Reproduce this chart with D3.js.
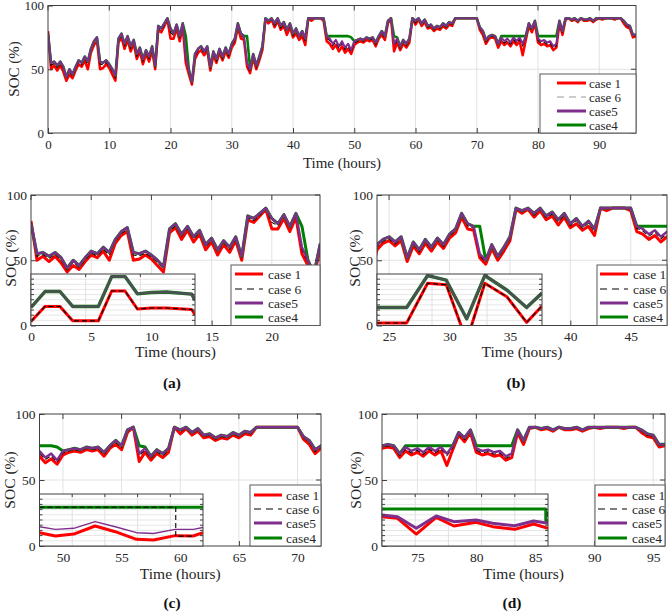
<!DOCTYPE html>
<html><head><meta charset="utf-8">
<script src="https://cdn.jsdelivr.net/npm/d3@7"></script>
<style>body{margin:0;background:#fff}svg{display:block}svg text{font-family:'Liberation Serif','Times New Roman',Times,serif;font-weight:normal}svg text.tag{font-weight:bold}</style>
</head><body><svg id="c" width="669" height="612"></svg>
<script>
// ---------------- DATA ----------------
const timeStep = 0.5; // hours between samples, from t = 0 h to 96 h
const seriesNames = ["case 1", "case 6", "case5", "case4"];

const case5 = [
 78,55,56,53,56,52,44,50,46,52, 57,55,60,56,66,72,75,56,55,57,
 54,50,45,74,78,70,76,68,73,62, 67,58,65,60,68,53,84,82,86,90,
 82,78,85,76,86,60,50,40,62,66, 68,64,68,52,64,58,66,60,67,62,
 70,74,86,78,76,55,50,62,53,60, 68,90,88,90,86,90,84,87,81,86,
 78,82,76,80,74,90,90,90,90,90, 90,76,74,70,73,68,72,67,70,65,
 72,73,74,73,75,74,75,71,76,80, 76,88,90,70,74,68,73,70,74,90,
 88,90,86,89,84,85,82,84,83,86, 84,87,86,90,90,90,90,90,90,90,
 90,83,80,73,76,77,76,70,75,72, 74,71,75,72,75,70,76,86,82,88,
 74,72,73,71,72,68,70,88,80,90, 90,89,90,88,90,89,89,90,88,90,
 90,90,90,90,90,90,90,90,88,85, 84,77,77];

const case1 = [
 80,50,53,49,53,48,41,46,43,49, 54,52,57,50,63,69,72,50,51,54,
 51,46,41,71,75,66,73,64,70,58, 64,54,62,56,65,50,81,79,84,89,
 74,74,82,72,83,55,46,38,58,63, 65,61,65,49,61,55,63,57,64,59,
 67,71,83,74,73,52,47,59,50,57, 65,89,86,89,83,88,81,84,77,83,
 75,78,73,76,69,90,88,90,90,90, 88,72,70,66,69,64,68,63,66,62,
 69,71,72,71,73,72,73,68,74,77, 73,86,90,64,71,65,70,67,71,90,
 85,89,84,87,82,83,80,82,81,84, 82,85,84,90,90,90,90,90,90,90,
 90,81,77,70,74,75,74,67,72,69, 71,68,72,69,72,61,73,84,79,86,
 71,69,70,68,69,65,67,86,77,89, 90,88,89,87,90,88,88,89,87,89,
 90,89,90,90,90,89,90,90,86,83, 82,75,76];

const case6 = [
 79,53,54.5,51.5,54.5,50.5,42.5,48.5,44.5,50.5, 55.5,53.5,58.5,54,64.5,70.5,73.5,54,53.5,55.5,
 52.5,48.5,43.5,72.5,76.5,68.5,74.5,66.5,71.5,60.5, 65.5,56.5,63.5,58.5,66.5,51.5,82.5,80.5,84.5,89.5,
 79,76.5,83.5,74.5,84.5,58,48.5,39,60.5,64.5, 66.5,62.5,66.5,50.5,62.5,56.5,64.5,58.5,65.5,60.5,
 68.5,72.5,84.5,76.5,74.5,53.5,48.5,60.5,51.5,58.5, 66.5,89.5,87,89.5,84.5,89,82.5,85.5,79.5,84.5,
 76.5,80.5,74.5,78.5,72,90,89.5,90,90,90, 89.5,74.5,72.5,68.5,71.5,66.5,70.5,65.5,68.5,63.5,
 70.5,72,73,72,74,73,74,69.5,75,78.5, 74.5,87,90,68.5,72.5,66.5,71.5,68.5,72.5,90,
 86.5,89.5,85,88,83,84,81,83,82,85, 83,86,85,90,90,90,90,90,90,90,
 90,82,78.5,71.5,75,76,75,68.5,73.5,70.5, 72.5,69.5,73.5,70.5,73.5,68.5,74.5,85,80.5,87,
 72.5,70.5,71.5,69.5,70.5,66.5,68.5,87,78.5,89.5, 90,88.5,89.5,87.5,90,88.5,88.5,89.5,87.5,89.5,
 90,90,90,90,90,90,90,90,87,84, 83,76,76.5];

const case4 = [
 78,55,56,53,56,52,44,50,46,52, 57,55,60,56,66,72,75,56,55,57,
 54,50,45,74,78,70,76,68,73,62, 67,58,65,60,68,53,84,82,86,90,
 82,78,85,76,86,76,50,40,62,66, 68,64,68,52,64,58,66,60,67,62,
 70,74,86,78,76,76,50,62,53,60, 68,90,88,90,86,90,84,87,81,86,
 78,82,76,80,74,90,90,90,90,90, 90,76,76,76,76,76,76,76,76,75,
 72,73,74,73,75,74,75,71,76,80, 76,88,90,76,75,68,73,70,74,90,
 88,90,86,89,84,85,82,84,83,86, 84,87,86,90,90,90,90,90,90,90,
 90,83,80,73,76,77,76,70,76,76, 76,76,76,76,76,76,76,86,82,88,
 76,76,76,76,76,76,76,88,80,90, 90,89,90,88,90,89,89,90,88,90,
 90,90,90,90,90,90,90,90,88,85, 84,77,77];

// tick labels
const socTicks = [0, 50, 100];
const topTicks = [0, 10, 20, 30, 40, 50, 60, 70, 80, 90];
const aTicks = [0, 5, 10, 15, 20];
const bTicks = [25, 30, 35, 40, 45];
const cTicks = [50, 55, 60, 65, 70];
const dTicks = [75, 80, 85, 90, 95];

// inset (zoomed detail) series
const insetA_x     = [0, 1.28, 2.65, 3.81, 6.16, 7.38, 8.6, 9.73, 11.0, 12.4, 14.7, 15];
const insetA_case5 = [3.5, 6.6, 6.6, 3.7, 3.7, 9.5, 9.5, 6.15, 6.4, 6.5, 6.1, 4.9];
const insetA_case4 = [3.5, 6.6, 6.6, 3.7, 3.7, 9.5, 9.5, 6.15, 6.4, 6.5, 6.1, 4.9];
const insetA_case1 = [0.8, 3.7, 3.7, 0.9, 0.9, 6.7, 6.7, 3.2, 3.4, 3.4, 3.1, 2.1];
const insetA_case6 = [0.8, 3.7, 3.7, 0.9, 0.9, 6.7, 6.7, 3.2, 3.4, 3.4, 3.1, 2.1];

const insetB_x     = [0, 2.7, 4.6, 6.3, 8.15, 9.8, 11.8, 13.6, 15];
const insetB_case5 = [3.5, 3.5, 9.7, 8.8, 1.3, 9.7, 6.9, 3.5, 6.3];
const insetB_case4 = [3.5, 3.5, 9.7, 8.8, 1.3, 9.7, 6.9, 3.5, 6.3];
const insetB_case1 = [0.5, 0.5, 8.2, 7.9, -3, 8.2, 5.6, 0.6, 3.8];
const insetB_case6 = [0.5, 0.5, 8.2, 7.9, -3, 8.2, 5.6, 0.6, 3.8];

const insetC_x     = [0, 1.46, 3.14, 5.1, 6.95, 8.9, 10.46, 12.44, 12.6, 14.1, 15];
const insetC_case5 = [3.7, 3.2, 3.4, 4.7, 3.7, 2.56, 2.4, 3.2, 3.2, 3.2, 3.55];
const insetC_case1 = [2.56, 1.92, 2.3, 3.85, 2.75, 1.28, 1.15, 2.0, 1.95, 1.92, 2.56];
const insetC_case4x = [0, 15];
const insetC_case4 = [7.44, 7.44];
const insetC_case6x = [0, 12.5, 12.5, 14.1];
const insetC_case6 = [7.44, 7.44, 1.9, 1.9];

const insetD_x     = [0, 1.4, 3.1, 4.9, 6.5, 8.5, 10.0, 12.0, 13.7, 15];
const insetD_case5 = [5.96, 5.64, 3.4, 5.77, 4.68, 5.0, 4.36, 3.9, 4.8, 4.36];
const insetD_case1 = [5.64, 5.32, 2.3, 5.5, 3.85, 4.55, 3.72, 3.2, 4.23, 3.4];
const insetD_case4x = [0, 14.8, 14.8, 15];
const insetD_case4 = [7.1, 7.1, 4.9, 4.9];
const insetD_case6x = [0, 14.95, 14.95];
const insetD_case6 = [7.1, 7.1, 5.5];

// ---------------- DRAWING ----------------
const FONT = "'Liberation Serif','Times New Roman',Times,serif";
const COL = {c1: '#ff0000', c6: '#000000', c5: '#7e2f8e', c4: '#008000'};
const AXC = '#404040', TXT = '#262626', GRID = '#e2e2e2';
const svg = d3.select('#c');
const times = case5.map((_, i) => i * timeStep);

function mainPanel(p) {
  const g = svg.append('g');
  const x = d3.scaleLinear().domain(p.domain).range([p.l, p.r]);
  const y = d3.scaleLinear().domain([0, 100]).range([p.b, p.t]);
  g.append('rect').attr('x', p.l).attr('y', p.t).attr('width', p.r - p.l).attr('height', p.b - p.t).attr('fill', '#fff');
  g.selectAll('line.vg').data(p.ticks.filter(t => t > p.domain[0] && t < p.domain[1])).join('line')
    .attr('x1', d => x(d)).attr('x2', d => x(d)).attr('y1', p.t).attr('y2', p.b)
    .attr('stroke', GRID).attr('stroke-width', 1);
  g.append('line').attr('x1', p.l).attr('x2', p.r).attr('y1', y(50)).attr('y2', y(50))
    .attr('stroke', GRID).attr('stroke-width', 1);

  const cid = 'clip_' + p.id;
  svg.append('clipPath').attr('id', cid).append('rect')
    .attr('x', p.l).attr('y', p.t).attr('width', p.r - p.l).attr('height', p.b - p.t);
  const lg = g.append('g').attr('clip-path', `url(#${cid})`);
  const line = d3.line().x((d, i) => x(times[i])).y(d => y(d));
  const s = p.scale;
  lg.append('path').attr('d', line(case1)).attr('fill', 'none').attr('stroke', COL.c1).attr('stroke-width', 3 * s).attr('stroke-linejoin', 'round');
  lg.append('path').attr('d', line(case6)).attr('fill', 'none').attr('stroke', COL.c6).attr('stroke-width', 1.1).attr('stroke-dasharray', '5,3');
  lg.append('path').attr('d', line(case4)).attr('fill', 'none').attr('stroke', COL.c4).attr('stroke-width', 3 * s).attr('stroke-linejoin', 'round');
  lg.append('path').attr('d', line(case5)).attr('fill', 'none').attr('stroke', COL.c5).attr('stroke-width', 2.4 * s).attr('stroke-linejoin', 'round');

  // axes
  const gx = g.append('g').attr('transform', `translate(0,${p.b})`)
    .call(d3.axisBottom(x).tickValues(p.ticks).tickSize(-5).tickPadding(p.xpad).tickFormat(d3.format('d')));
  gx.select('.domain').remove();
  gx.attr('font-family', FONT).attr('font-size', p.fs);
  gx.selectAll('line').attr('stroke', AXC);
  gx.selectAll('text').attr('fill', TXT);
  const gy = g.append('g').attr('transform', `translate(${p.l},0)`)
    .call(d3.axisLeft(y).tickValues(socTicks).tickSize(-5).tickPadding(4).tickFormat(d3.format('d')));
  gy.select('.domain').remove();
  gy.attr('font-family', FONT).attr('font-size', p.fs);
  gy.selectAll('line').attr('stroke', AXC);
  gy.selectAll('text').attr('fill', TXT);
  // mirrored ticks
  g.selectAll('line.tt').data(p.ticks).join('line')
    .attr('x1', d => x(d)).attr('x2', d => x(d)).attr('y1', p.t).attr('y2', p.t + 5).attr('stroke', AXC);
  g.selectAll('line.rt').data(socTicks).join('line')
    .attr('x1', p.r).attr('x2', p.r - 5).attr('y1', d => y(d)).attr('y2', d => y(d)).attr('stroke', AXC);
  g.append('rect').attr('x', p.l).attr('y', p.t).attr('width', p.r - p.l).attr('height', p.b - p.t)
    .attr('fill', 'none').attr('stroke', AXC).attr('stroke-width', 1);

  // labels
  g.append('text').attr('x', (p.l + p.r) / 2).attr('y', p.xlabY).attr('text-anchor', 'middle')
    .attr('font-family', FONT).attr('font-size', p.lfs).attr('fill', TXT).text('Time (hours)');
  g.append('text').attr('transform', `translate(${p.ylabX},${p.ylabCY}) rotate(-90)`)
    .attr('text-anchor', 'middle').attr('dominant-baseline', 'central')
    .attr('font-family', FONT).attr('font-size', p.lfs).attr('fill', TXT).text('SOC (%)');
  if (p.tag) {
    g.append('text').attr('class', 'tag').attr('x', p.tag[0]).attr('y', p.tag[1]).attr('text-anchor', 'middle')
      .attr('font-family', FONT).attr('font-size', 15.5).attr('font-weight', 'bold').attr('fill', '#111').text(p.tag[2]);
  }
  return g;
}

function insetPanel(p) {
  const g = svg.append('g');
  const x = d3.scaleLinear().domain([0, 15]).range([p.l, p.r]);
  const y = d3.scaleLinear().domain([0, 10]).range([p.b, p.t]);
  g.append('rect').attr('x', p.l).attr('y', p.t).attr('width', p.r - p.l).attr('height', p.b - p.t).attr('fill', '#fff');
  const hg = d3.range(1, 10);
  g.selectAll('line.hg').data(hg).join('line')
    .attr('x1', p.l).attr('x2', p.r).attr('y1', d => y(d)).attr('y2', d => y(d)).attr('stroke', '#e6e6e6');
  g.selectAll('line.vg').data(p.vgrid).join('line')
    .attr('x1', d => x(d)).attr('x2', d => x(d)).attr('y1', p.t).attr('y2', p.b).attr('stroke', '#e0e0e0');
  const cid = 'clip_in_' + p.id;
  svg.append('clipPath').attr('id', cid).append('rect')
    .attr('x', p.l).attr('y', p.t).attr('width', p.r - p.l).attr('height', p.b - p.t);
  const lg = g.append('g').attr('clip-path', `url(#${cid})`);
  p.series.forEach(s => {
    const ln = d3.line().x((d, i) => x(s.xs[i])).y(d => y(d));
    const path = lg.append('path').attr('d', ln(s.ys)).attr('fill', 'none').attr('stroke', s.color)
      .attr('stroke-width', s.w).attr('stroke-linejoin', 'round');
    if (s.dash) path.attr('stroke-dasharray', s.dash);
    if (s.op) path.attr('stroke-opacity', s.op);
  });
  g.selectAll('line.lt').data(hg).join('line')
    .attr('x1', p.l).attr('x2', p.l + 3).attr('y1', d => y(d)).attr('y2', d => y(d)).attr('stroke', AXC);
  g.selectAll('line.rt').data(hg).join('line')
    .attr('x1', p.r).attr('x2', p.r - 3).attr('y1', d => y(d)).attr('y2', d => y(d)).attr('stroke', AXC);
  g.selectAll('line.tt').data(p.vgrid).join('line')
    .attr('x1', d => x(d)).attr('x2', d => x(d)).attr('y1', p.t).attr('y2', p.t + 3).attr('stroke', AXC);
  g.append('rect').attr('x', p.l).attr('y', p.t).attr('width', p.r - p.l).attr('height', p.b - p.t)
    .attr('fill', 'none').attr('stroke', AXC).attr('stroke-width', 1);
}

function legend(p) {
  const g = svg.append('g');
  g.append('rect').attr('x', p.l).attr('y', p.t).attr('width', p.w).attr('height', p.h)
    .attr('fill', '#fff').attr('stroke', '#5a5a5a').attr('stroke-width', 1);
  const styles = [
    {c: COL.c1, w: 3, dash: null},
    {c: p.dashColor, w: 1.2, dash: '7,5'},
    {c: COL.c5, w: 3, dash: null},
    {c: COL.c4, w: 3, dash: null}
  ];
  seriesNames.forEach((name, i) => {
    const yy = p.t + p.rows[i];
    g.append('line').attr('x1', p.l + p.s0).attr('x2', p.l + p.s1).attr('y1', yy).attr('y2', yy)
      .attr('stroke', styles[i].c).attr('stroke-width', styles[i].w)
      .attr('stroke-dasharray', styles[i].dash);
    g.append('text').attr('x', p.l + p.tx).attr('y', yy).attr('dominant-baseline', 'central')
      .attr('font-family', FONT).attr('font-size', p.fs).attr('fill', TXT).text(name);
  });
}

// top overview
mainPanel({id: 'top', domain: [0, 96], ticks: topTicks, l: 48, r: 636, t: 5.5, b: 133, fs: 13, xpad: 7,
  lfs: 15, xlabY: 168, ylabX: 14, ylabCY: 69, scale: 0.85});
legend({l: 540, t: 74, w: 96, h: 59, rows: [9, 23, 37, 51], s0: 17, s1: 46, tx: 49, fs: 13, dashColor: '#9a9a9a'});

// subplots
mainPanel({id: 'a', domain: [0, 24], ticks: aTicks, l: 31, r: 320, t: 195, b: 325.5, fs: 13.5, xpad: 6,
  lfs: 15.5, xlabY: 357, ylabX: 10, ylabCY: 258, scale: 1, tag: [172, 388, '(a)']});
insetPanel({id: 'a', l: 31, r: 195, t: 274, b: 325.5, vgrid: [5, 10], series: [
  {xs: insetA_x, ys: insetA_case1, color: COL.c1, w: 3},
  {xs: insetA_x, ys: insetA_case6, color: COL.c6, w: 1.1, dash: '5,3'},
  {xs: insetA_x, ys: insetA_case4, color: COL.c4, w: 3.4},
  {xs: insetA_x, ys: insetA_case5, color: COL.c5, w: 2.6, op: 0.6}]});
legend({l: 231, t: 265, w: 89, h: 60.5, rows: [9, 24, 38, 52], s0: 4, s1: 32, tx: 37, fs: 13.5, dashColor: '#000'});

mainPanel({id: 'b', domain: [24, 48], ticks: bTicks, l: 377, r: 667, t: 195, b: 325.5, fs: 13.5, xpad: 6,
  lfs: 15.5, xlabY: 357, ylabX: 354, ylabCY: 258, scale: 1, tag: [516, 388, '(b)']});
insetPanel({id: 'b', l: 377, r: 542, t: 274, b: 325.5, vgrid: [5, 10], series: [
  {xs: insetB_x, ys: insetB_case1, color: COL.c1, w: 3},
  {xs: insetB_x, ys: insetB_case6, color: COL.c6, w: 1.1, dash: '5,3'},
  {xs: insetB_x, ys: insetB_case4, color: COL.c4, w: 3.4},
  {xs: insetB_x, ys: insetB_case5, color: COL.c5, w: 2.6, op: 0.6}]});
legend({l: 597, t: 265, w: 70, h: 60.5, rows: [9, 24, 38, 52], s0: 3, s1: 31, tx: 36, fs: 13.5, dashColor: '#000'});

mainPanel({id: 'c', domain: [48, 72], ticks: cTicks, l: 39.5, r: 321, t: 414, b: 546, fs: 13.5, xpad: 6,
  lfs: 15.5, xlabY: 579, ylabX: 9, ylabCY: 480, scale: 1, tag: [172, 608, '(c)']});
insetPanel({id: 'c', l: 39.5, r: 203, t: 494, b: 546, vgrid: [3, 6, 9, 12], series: [
  {xs: insetC_case4x, ys: insetC_case4, color: COL.c4, w: 3},
  {xs: insetC_x, ys: insetC_case1, color: COL.c1, w: 3},
  {xs: insetC_case6x, ys: insetC_case6, color: COL.c6, w: 1.1, dash: '5,3'},
  {xs: insetC_x, ys: insetC_case5, color: COL.c5, w: 1.4}]});
legend({l: 250, t: 485, w: 71, h: 61, rows: [10, 24, 38, 53], s0: 4, s1: 32, tx: 36, fs: 13.5, dashColor: '#000'});

mainPanel({id: 'd', domain: [72, 96], ticks: dTicks, l: 382, r: 665, t: 414, b: 546, fs: 13.5, xpad: 6,
  lfs: 15.5, xlabY: 579, ylabX: 355, ylabCY: 480, scale: 1, tag: [512, 608, '(d)']});
insetPanel({id: 'd', l: 382, r: 548, t: 494, b: 546, vgrid: [3, 6, 9, 12], series: [
  {xs: insetD_case6x, ys: insetD_case6, color: COL.c6, w: 1.1, dash: '5,3'},
  {xs: insetD_case4x, ys: insetD_case4, color: COL.c4, w: 3},
  {xs: insetD_x, ys: insetD_case1, color: COL.c1, w: 3},
  {xs: insetD_x, ys: insetD_case5, color: COL.c5, w: 3}]});
legend({l: 595, t: 485, w: 70, h: 61, rows: [10, 24, 38, 53], s0: 3, s1: 32, tx: 37, fs: 13.5, dashColor: '#000'});
</script>
</body></html>
